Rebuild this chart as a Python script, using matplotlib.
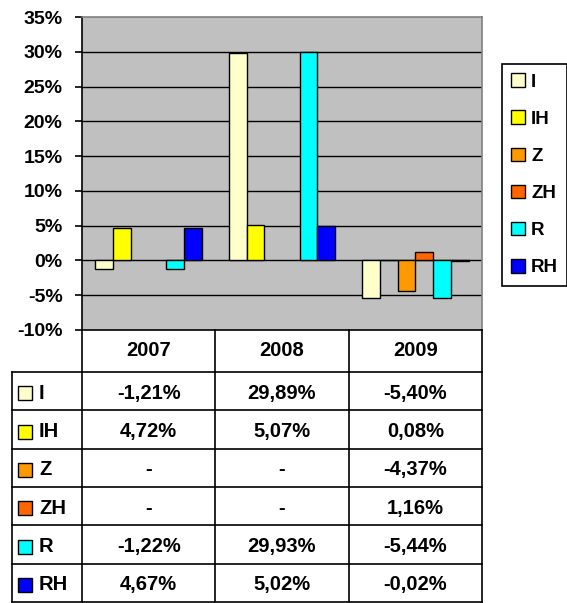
import matplotlib.pyplot as plt
from matplotlib.patches import Rectangle

# Dati
years = ["2007", "2008", "2009"]
series_names = ["I", "IH", "Z", "ZH", "R", "RH"]
I_vals = [-1.21, 29.89, -5.40]
IH_vals = [4.72, 5.07, 0.08]
Z_vals = [None, None, -4.37]
ZH_vals = [None, None, 1.16]
R_vals = [-1.22, 29.93, -5.44]
RH_vals = [4.67, 5.02, -0.02]
colors = ["#FFFFCC", "#FFFF00", "#FF9900", "#FF6600", "#00FFFF", "#0000FF"]
y_ticks = [-10, -5, 0, 5, 10, 15, 20, 25, 30, 35]

all_series = [I_vals, IH_vals, Z_vals, ZH_vals, R_vals, RH_vals]

plt.rcParams["font.family"] = ["Liberation Sans", "DejaVu Sans"]
plt.rcParams["font.weight"] = "bold"

W, H = 567, 603
fig = plt.figure(figsize=(W / 100, H / 100), dpi=100)

# area del grafico (pixel)
px_l, px_r, px_t, px_b = 82, 482, 17, 330
ax = fig.add_axes([px_l / W, 1 - px_b / H, (px_r - px_l) / W, (px_b - px_t) / H])
ax.set_facecolor("#C0C0C0")

bw = 0.133
for j, (name, vals) in enumerate(zip(series_names, all_series)):
    xs, hs = [], []
    for i, v in enumerate(vals):
        if v is None:
            continue
        xs.append(i + 0.5 + (j - 2.5) * bw)
        hs.append(v)
    ax.bar(xs, hs, width=bw, color=colors[j], edgecolor="black",
           linewidth=1.0, label=name, zorder=3)

ax.set_xlim(0, 3)
ax.set_ylim(-10, 35)
ax.set_yticks(y_ticks)
ax.set_yticklabels([f"{t}%" for t in y_ticks], fontsize=14, fontweight="bold")
ax.tick_params(axis="y", direction="out", length=5, width=1.2, pad=9, color="black")
ax.set_xticks([])
for t in y_ticks[1:-1]:
    ax.axhline(t, color="black", linewidth=1.0, zorder=1)
ax.spines["top"].set_color("#808080")
ax.spines["right"].set_color("#808080")
for s in ax.spines.values():
    s.set_linewidth(1.2)

# Legenda
handles, labels = ax.get_legend_handles_labels()
leg = fig.legend(handles, labels, loc="upper left",
                 bbox_to_anchor=(502 / W, 1 - 64 / H),
                 fontsize=13.5, frameon=True, fancybox=False,
                 edgecolor="black", framealpha=1,
                 handlelength=0.75, handleheight=0.75, handletextpad=0.3,
                 labelspacing=1.05, borderpad=0.5, borderaxespad=0)
leg.get_frame().set_linewidth(1.2)
for t in leg.get_texts():
    t.set_fontweight("bold")

# Tabella dati
tab = fig.add_axes([0, 0, 1, 1])
tab.set_xlim(0, W)
tab.set_ylim(H, 0)
tab.axis("off")

col_w = (px_r - px_l) / 3
cols = [px_l + k * col_w for k in range(4)]
tab_left = 12
head_b = 372
row_h = (602 - head_b) / 6
rows = [head_b + k * row_h for k in range(7)]
lw = 1.2

# intestazione
for x in cols:
    tab.plot([x, x], [px_b, head_b], color="black", lw=lw)
for i, y in enumerate(years):
    tab.text(cols[i] + col_w / 2, (px_b + head_b) / 2, y, ha="center", va="center",
             fontsize=14.5, fontweight="bold")

# righe
for y in rows:
    tab.plot([tab_left, px_r], [y, y], color="black", lw=lw)
for x in [tab_left] + cols:
    tab.plot([x, x], [head_b, rows[-1]], color="black", lw=lw)


def fmt(v):
    if v is None:
        return "-"
    return f"{v:.2f}".replace(".", ",") + "%"


for r, (name, vals) in enumerate(zip(series_names, all_series)):
    yc = rows[r] + row_h / 2 + 2
    tab.add_patch(Rectangle((18, yc - 7), 14, 14, facecolor=colors[r],
                            edgecolor="black", linewidth=1.0))
    tab.text(39, yc, name, ha="left", va="center", fontsize=14.5, fontweight="bold")
    for i, v in enumerate(vals):
        tab.text(cols[i] + col_w / 2, yc, fmt(v), ha="center", va="center",
                 fontsize=14.5, fontweight="bold")

fig.savefig("out.png", dpi=100)
